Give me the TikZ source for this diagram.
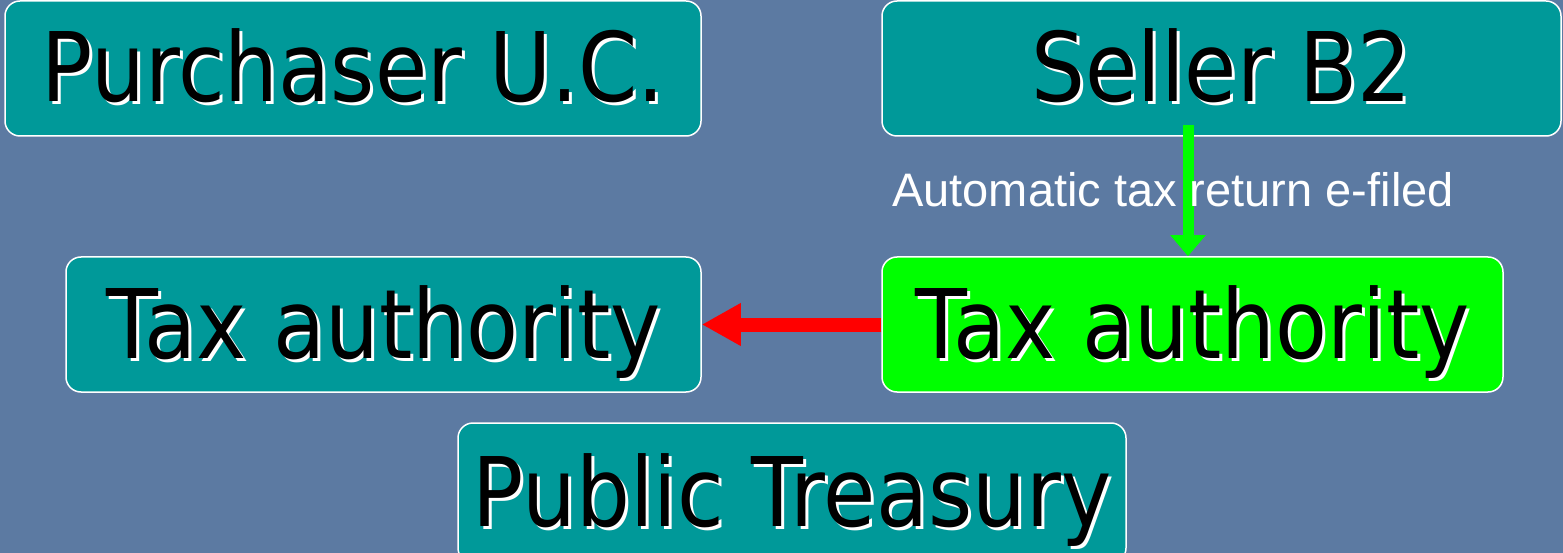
\documentclass[tikz,border=0pt]{standalone}
\usepackage{fontspec}
\usetikzlibrary{arrows.meta}
\newfontfamily\boxfont[FakeStretch=0.885]{DejaVu Sans}
\newfontfamily\lblfont{Liberation Sans}
\definecolor{bgblue}{RGB}{92,122,162}
\definecolor{teal}{RGB}{0,153,153}
\definecolor{lime}{RGB}{0,255,0}
\definecolor{redarrow}{RGB}{255,0,0}
\newcommand\shtext[1]{\makebox[0pt][l]{\hspace*{3pt}\raisebox{-3pt}{\color{white}#1}}#1}
\tikzset{
  box/.style={draw=white, line width=1.5pt, fill=teal, rounded corners=15pt,
    inner sep=0pt, text=black, text height=70pt, text depth=3pt,
    font=\boxfont\fontsize{96}{100}\selectfont},
  greenbox/.style={box, fill=lime},
  redarr/.style={draw=redarrow, line width=14pt, -{Triangle[length=39pt,width=40pt]}},
  greenarr/.style={draw=lime, line width=11pt, -{Triangle[length=21pt,width=34pt]}},
  lbl/.style={text=white, inner sep=0pt, font=\lblfont\fontsize{47}{52}\selectfont}
}
\begin{document}
\begin{tikzpicture}[x=1pt,y=-1pt]
\fill[bgblue] (0,0) rectangle (1563,553);
\useasboundingbox (0,0) rectangle (1563,553);
\node[box, minimum width=696pt, minimum height=135pt] (pur) at (353,68.5) {\shtext{Purchaser U.C.}};
\node[box, minimum width=679pt, minimum height=135pt] (sel) at (1221.5,68.5) {\shtext{Seller B2}};
\node[box, minimum width=635pt, minimum height=135pt] (lta) at (383.5,324.5) {\shtext{Tax authority}};
\node[greenbox, minimum width=621pt, minimum height=135pt] (gta) at (1192.5,324.5) {\shtext{Tax authority}};
\node[box, minimum width=668pt, minimum height=140pt] (pt) at (792,493) {\shtext{Public Treasury}};
\coordinate (gs) at (1188,125);
\draw[greenarr] (gs) -- (gs |- gta.north);
\draw[redarr] (gta.west) -- (lta.east);
\node[lbl, anchor=base] (lab) at (1173,207) {Automatic tax return e-filed};
\end{tikzpicture}
\end{document}
